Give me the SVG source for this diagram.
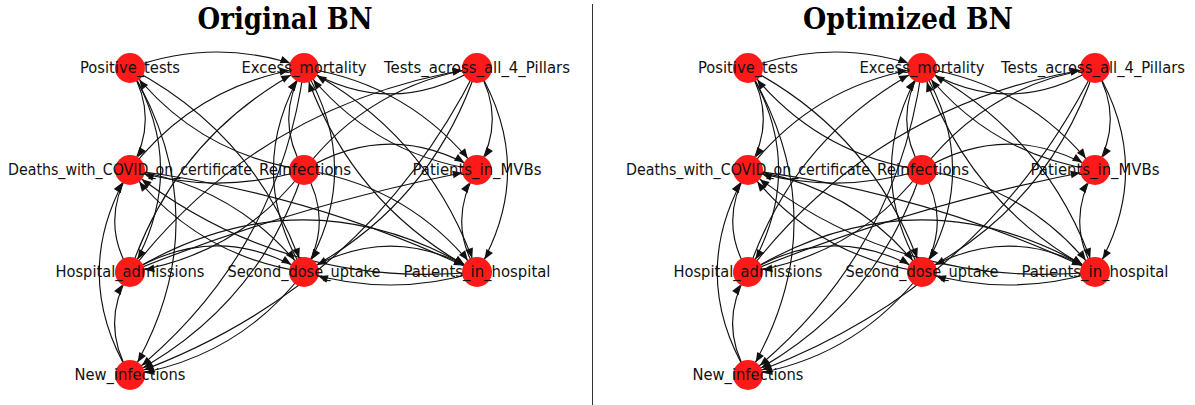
<svg xmlns="http://www.w3.org/2000/svg" width="1195" height="405" viewBox="0 0 1195 405">
<style>
.edge{fill:none;stroke:#111;stroke-width:1.15;marker-end:url(#ah)}
.node circle{fill:#ff1a1a}
.lbl{font-family:"DejaVu Sans","Liberation Sans",sans-serif;font-size:15px;text-anchor:middle;fill:#111}
.title{font-family:"DejaVu Serif","Liberation Serif",serif;font-weight:bold;font-size:29px;text-anchor:middle;fill:#000}
</style>
<defs>
<marker id="ah" markerUnits="userSpaceOnUse" markerWidth="12" markerHeight="10" refX="24.5" refY="0" orient="auto" overflow="visible">
<path d="M0,-3.9 L9.5,0 L0,3.9 z" fill="#111"/>
</marker>
</defs>
<rect width="1195" height="405" fill="#fff"/>
<text class="title" x="285" y="29" textLength="175" lengthAdjust="spacingAndGlyphs">Original BN</text>
<text class="title" x="908" y="29" textLength="210" lengthAdjust="spacingAndGlyphs">Optimized BN</text>
<line x1="592.5" y1="4" x2="592.5" y2="405" stroke="#333" stroke-width="1"/>

<g id="original">
<g id="original-connectors">
<path class="edge" d="M130 68 Q217 36 304 68"/>
<path class="edge" d="M130 68 Q160.6 119 130 170"/>
<path class="edge" d="M130 68 Q191.2 170 130 272"/>
<path class="edge" d="M130 68 Q222.1 221.5 130 375"/>
<path class="edge" d="M304 170 Q196.6 153.8 130 68"/>
<path class="edge" d="M130 170 Q196.6 84.2 304 68"/>
<path class="edge" d="M130 170 Q237.4 186.2 304 272"/>
<path class="edge" d="M130 170 Q312.2 193.2 477 272"/>
<path class="edge" d="M304 170 Q273.4 119 304 68"/>
<path class="edge" d="M304 170 Q217 196.1 130 170"/>
<path class="edge" d="M304 170 Q390.5 118.1 477 170"/>
<path class="edge" d="M304 170 Q334.6 221 304 272"/>
<path class="edge" d="M304 170 Q258 307.3 130 375"/>
<path class="edge" d="M304 170 Q410.9 186.4 477 272"/>
<path class="edge" d="M304 170 Q370.1 84.4 477 68"/>
<path class="edge" d="M304 170 Q237.4 255.8 130 272"/>
<path class="edge" d="M304 68 Q365.2 170 304 272"/>
<path class="edge" d="M304 68 Q410.9 84.4 477 170"/>
<path class="edge" d="M304 68 Q431.3 135.4 477 272"/>
<path class="edge" d="M477 68 Q390.5 119.9 304 68"/>
<path class="edge" d="M477 68 Q507.6 119 477 170"/>
<path class="edge" d="M477 68 Q538.2 170 477 272"/>
<path class="edge" d="M477 68 Q431.3 204.6 304 272"/>
<path class="edge" d="M477 68 Q364.9 290.9 130 375"/>
<path class="edge" d="M130 272 Q99.4 221 130 170"/>
<path class="edge" d="M130 272 Q217 219.8 304 272"/>
<path class="edge" d="M130 272 Q262.7 100.6 477 68"/>
<path class="edge" d="M130 272 Q303.5 167.9 477 272"/>
<path class="edge" d="M304 272 Q242.8 170 304 68"/>
<path class="edge" d="M304 272 Q196.6 255.8 130 170"/>
<path class="edge" d="M304 272 Q390.5 220.1 477 272"/>
<path class="edge" d="M304 272 Q237.6 358.3 130 375"/>
<path class="edge" d="M477 272 Q390.5 298 304 272"/>
<path class="edge" d="M477 272 Q283.1 290.4 130 170"/>
<path class="edge" d="M477 272 Q446.4 221 477 170"/>
<path class="edge" d="M477 272 Q349.7 204.6 304 68"/>
<path class="edge" d="M130 375 Q99.1 323.5 130 272"/>
<path class="edge" d="M130 375 Q68.5 272.5 130 170"/>
<path class="edge" d="M477 170 Q370.1 153.6 304 68"/>
<path class="edge" d="M130 272 Q298.4 203.6 477 170"/>
<path class="edge" d="M130 68 Q257.8 135.2 304 272"/>
<path class="edge" d="M304 68 Q278.4 256.3 130 375"/>
<path class="edge" d="M130 272 Q176.2 135.2 304 68"/>
</g>
<g id="o-positive" class="node"><circle cx="130" cy="68" r="15"/><text class="lbl" x="130" y="72.5" textLength="100" lengthAdjust="spacingAndGlyphs">Positive_tests</text></g>
<g id="o-excess" class="node"><circle cx="304" cy="68" r="15"/><text class="lbl" x="304" y="72.5" textLength="125" lengthAdjust="spacingAndGlyphs">Excess_mortality</text></g>
<g id="o-tests" class="node"><circle cx="477" cy="68" r="15"/><text class="lbl" x="477" y="72.5" textLength="186" lengthAdjust="spacingAndGlyphs">Tests_across_all_4_Pillars</text></g>
<g id="o-deaths" class="node"><circle cx="130" cy="170" r="15"/><text class="lbl" x="130" y="174.5" textLength="244" lengthAdjust="spacingAndGlyphs">Deaths_with_COVID_on_certificate</text></g>
<g id="o-reinf" class="node"><circle cx="304" cy="170" r="15"/><text class="lbl" x="305" y="174.5" textLength="92" lengthAdjust="spacingAndGlyphs">Reinfections</text></g>
<g id="o-mvbs" class="node"><circle cx="477" cy="170" r="15"/><text class="lbl" x="477" y="174.5" textLength="129" lengthAdjust="spacingAndGlyphs">Patients_in_MVBs</text></g>
<g id="o-hosp" class="node"><circle cx="130" cy="272" r="15"/><text class="lbl" x="130" y="276.5" textLength="149" lengthAdjust="spacingAndGlyphs">Hospital_admissions</text></g>
<g id="o-second" class="node"><circle cx="304" cy="272" r="15"/><text class="lbl" x="304" y="276.5" textLength="153" lengthAdjust="spacingAndGlyphs">Second_dose_uptake</text></g>
<g id="o-pih" class="node"><circle cx="477" cy="272" r="15"/><text class="lbl" x="477" y="276.5" textLength="147" lengthAdjust="spacingAndGlyphs">Patients_in_hospital</text></g>
<g id="o-newinf" class="node"><circle cx="130" cy="375" r="15"/><text class="lbl" x="130" y="379.5" textLength="111" lengthAdjust="spacingAndGlyphs">New_infections</text></g>
</g>

<g id="optimized" transform="translate(618,0)">
<g id="optimized-connectors">
<path class="edge" d="M130 68 Q217 36 304 68"/>
<path class="edge" d="M130 68 Q160.6 119 130 170"/>
<path class="edge" d="M130 68 Q191.2 170 130 272"/>
<path class="edge" d="M130 68 Q222.1 221.5 130 375"/>
<path class="edge" d="M304 170 Q196.6 153.8 130 68"/>
<path class="edge" d="M130 170 Q196.6 84.2 304 68"/>
<path class="edge" d="M130 170 Q237.4 186.2 304 272"/>
<path class="edge" d="M130 170 Q312.2 193.2 477 272"/>
<path class="edge" d="M304 170 Q273.4 119 304 68"/>
<path class="edge" d="M304 170 Q217 196.1 130 170"/>
<path class="edge" d="M304 170 Q390.5 118.1 477 170"/>
<path class="edge" d="M304 170 Q334.6 221 304 272"/>
<path class="edge" d="M304 170 Q258 307.3 130 375"/>
<path class="edge" d="M304 170 Q410.9 186.4 477 272"/>
<path class="edge" d="M304 170 Q370.1 84.4 477 68"/>
<path class="edge" d="M304 170 Q237.4 255.8 130 272"/>
<path class="edge" d="M304 68 Q365.2 170 304 272"/>
<path class="edge" d="M304 68 Q410.9 84.4 477 170"/>
<path class="edge" d="M304 68 Q431.3 135.4 477 272"/>
<path class="edge" d="M477 68 Q390.5 119.9 304 68"/>
<path class="edge" d="M477 68 Q507.6 119 477 170"/>
<path class="edge" d="M477 68 Q538.2 170 477 272"/>
<path class="edge" d="M477 68 Q431.3 204.6 304 272"/>
<path class="edge" d="M477 68 Q364.9 290.9 130 375"/>
<path class="edge" d="M130 272 Q99.4 221 130 170"/>
<path class="edge" d="M130 272 Q217 219.8 304 272"/>
<path class="edge" d="M130 272 Q262.7 100.6 477 68"/>
<path class="edge" d="M130 272 Q303.5 167.9 477 272"/>
<path class="edge" d="M304 272 Q242.8 170 304 68"/>
<path class="edge" d="M304 272 Q196.6 255.8 130 170"/>
<path class="edge" d="M304 272 Q390.5 220.1 477 272"/>
<path class="edge" d="M304 272 Q237.6 358.3 130 375"/>
<path class="edge" d="M477 272 Q390.5 298 304 272"/>
<path class="edge" d="M477 272 Q283.1 290.4 130 170"/>
<path class="edge" d="M477 272 Q446.4 221 477 170"/>
<path class="edge" d="M477 272 Q349.7 204.6 304 68"/>
<path class="edge" d="M130 375 Q99.1 323.5 130 272"/>
<path class="edge" d="M130 375 Q68.5 272.5 130 170"/>
<path class="edge" d="M477 170 Q370.1 153.6 304 68"/>
<path class="edge" d="M130 272 Q298.4 203.6 477 170"/>
<path class="edge" d="M130 68 Q257.8 135.2 304 272"/>
<path class="edge" d="M304 68 Q278.4 256.3 130 375"/>
<path class="edge" d="M130 272 Q176.2 135.2 304 68"/>
</g>
<g id="p-positive" class="node"><circle cx="130" cy="68" r="15"/><text class="lbl" x="130" y="72.5" textLength="100" lengthAdjust="spacingAndGlyphs">Positive_tests</text></g>
<g id="p-excess" class="node"><circle cx="304" cy="68" r="15"/><text class="lbl" x="304" y="72.5" textLength="125" lengthAdjust="spacingAndGlyphs">Excess_mortality</text></g>
<g id="p-tests" class="node"><circle cx="477" cy="68" r="15"/><text class="lbl" x="475" y="72.5" textLength="184" lengthAdjust="spacingAndGlyphs">Tests_across_all_4_Pillars</text></g>
<g id="p-deaths" class="node"><circle cx="130" cy="170" r="15"/><text class="lbl" x="130" y="174.5" textLength="244" lengthAdjust="spacingAndGlyphs">Deaths_with_COVID_on_certificate</text></g>
<g id="p-reinf" class="node"><circle cx="304" cy="170" r="15"/><text class="lbl" x="305" y="174.5" textLength="92" lengthAdjust="spacingAndGlyphs">Reinfections</text></g>
<g id="p-mvbs" class="node"><circle cx="477" cy="170" r="15"/><text class="lbl" x="477" y="174.5" textLength="129" lengthAdjust="spacingAndGlyphs">Patients_in_MVBs</text></g>
<g id="p-hosp" class="node"><circle cx="130" cy="272" r="15"/><text class="lbl" x="130" y="276.5" textLength="149" lengthAdjust="spacingAndGlyphs">Hospital_admissions</text></g>
<g id="p-second" class="node"><circle cx="304" cy="272" r="15"/><text class="lbl" x="304" y="276.5" textLength="153" lengthAdjust="spacingAndGlyphs">Second_dose_uptake</text></g>
<g id="p-pih" class="node"><circle cx="477" cy="272" r="15"/><text class="lbl" x="477" y="276.5" textLength="147" lengthAdjust="spacingAndGlyphs">Patients_in_hospital</text></g>
<g id="p-newinf" class="node"><circle cx="130" cy="375" r="15"/><text class="lbl" x="130" y="379.5" textLength="111" lengthAdjust="spacingAndGlyphs">New_infections</text></g>
</g>
</svg>
